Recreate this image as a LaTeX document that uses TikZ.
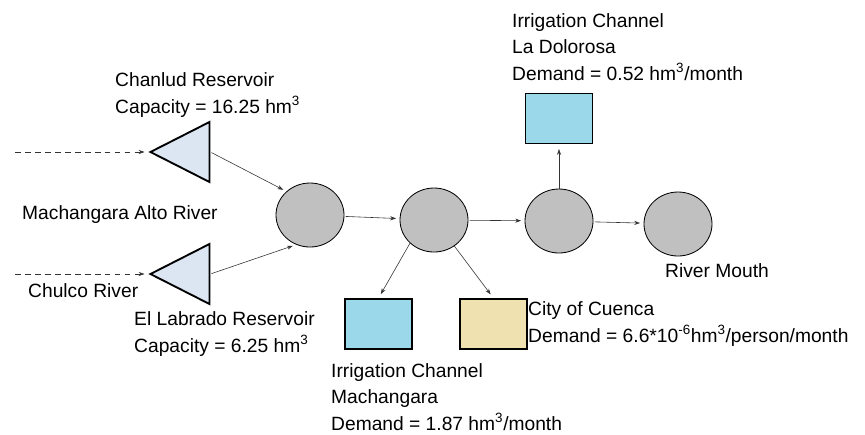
\documentclass[tikz,border=0pt]{standalone}
\usepackage{fontspec}
\setmainfont{Liberation Sans}
\usetikzlibrary{shapes.geometric,arrows.meta}
\definecolor{resblue}{RGB}{220,230,242}
\definecolor{chanblue}{RGB}{155,216,233}
\definecolor{citytan}{RGB}{239,226,176}
\definecolor{nodegray}{RGB}{192,192,192}
\begin{document}
\begin{tikzpicture}
  [x=0.03cm,y=-0.03cm,every node/.style={font=\fontsize{16.4}{22.4}\selectfont}]
  \tikzstyle{reservoir} = [draw,line width=1.6pt,fill=resblue,isosceles triangle,shape border rotate=180,isosceles triangle stretches,minimum width=1.8cm,minimum height=1.77cm,inner sep=0pt,anchor=apex]
  \tikzstyle{junction} = [draw,line width=0.7pt,fill=nodegray,ellipse,minimum width=2.04cm,minimum height=1.92cm,inner sep=0pt]
  \tikzstyle{demand} = [draw,line width=1.4pt,rectangle,minimum width=2.01cm,minimum height=1.5cm,inner sep=0pt]
  \tikzstyle{txt} = [anchor=base west,align=left,inner sep=0pt]
  \tikzstyle{flow} = [-{Stealth[length=5pt,width=3.5pt]},line width=0.5pt,color=black!80]
  \useasboundingbox (0,0) rectangle (865,434);

  \coordinate (altoin) at (15,152);
  \coordinate (chulcoin) at (15,274);
  \node[reservoir] (chanlud) at (148,152) {};
  \node[reservoir] (labrado) at (148,274) {};
  \node[junction] (j1) at (310,215) {};
  \node[junction] (j2) at (434,220) {};
  \node[junction] (j3) at (559,221) {};
  \node[junction] (j4) at (678,224) {};
  \node[demand,fill=chanblue] (machangara) at (378.5,324) {};
  \node[demand,fill=citytan] (cuenca) at (493.5,324) {};
  \node[demand,fill=chanblue] (dolorosa) at (559,118.5) {};

  % multi-line texts sit on the baseline of their last line
  \node[txt] (chanludtxt) at (115,113) {Chanlud Reservoir\\Capacity = 16.25 hm\textsuperscript{3}};
  \node[txt] (altotxt) at (22,219) {Machangara Alto River};
  \node[txt] (chulcotxt) at (28,297) {Chulco River};
  \node[txt] (labradotxt) at (134,352) {El Labrado Reservoir\\Capacity = 6.25 hm\textsuperscript{3}};
  \node[txt] (machangaratxt) at (331,430) {Irrigation Channel\\Machangara\\Demand = 1.87 hm\textsuperscript{3}/month};
  \node[txt] (mouthtxt) at (665,277) {River Mouth};
  \node[txt] (dolorosatxt) at (512,80) {Irrigation Channel\\La Dolorosa\\Demand = 0.52 hm\textsuperscript{3}/month};
  \node[txt] (cuencatxt) at (528,342) {City of Cuenca\\Demand = 6.6*10\textsuperscript{-6}hm\textsuperscript{3}/person/month};

\foreach \source/\dest in {altoin/chanlud.apex,chulcoin/labrado.apex}
   \draw[flow,dash pattern=on 5pt off 3.5pt,shorten >=3pt] (\source) -- (\dest);
\foreach \source/\dest in {chanlud.lower side/j1.135,labrado.lower side/j1.245,j1/j2,j2/j3,j3/j4}
   \draw[flow,shorten >=3pt,shorten <=1pt] (\source) -- (\dest);
\foreach \source/\dest in {j2.224/machangara.north,j2.308/cuenca.north,j3.north/dolorosa.south}
   \draw[flow,shorten >=4pt] (\source) -- (\dest);

\end{tikzpicture}
\end{document}
